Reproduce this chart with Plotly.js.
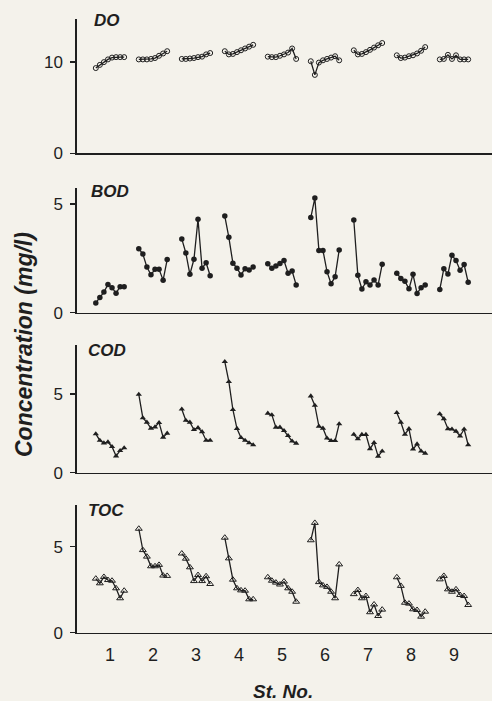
<!DOCTYPE html>
<html>
<head>
<meta charset="utf-8">
<script src="https://cdn.plot.ly/plotly-3.0.1.min.js"></script>
<style>
  html, body { margin: 0; padding: 0; background: #f4f2eb; }
  #chart { width: 492px; height: 701px; }
</style>
</head>
<body>
<div id="chart"></div>
<script>
// ---- data ----
const stations = [1, 2, 3, 4, 5, 6, 7, 8, 9];
const stationLabels = ['1', '2', '3', '4', '5', '6', '7', '8', '9'];
const panelNames = ['DO', 'BOD', 'COD', 'TOC'];

const doValues = [
  [9.35, 9.7, 10.0, 10.3, 10.5, 10.55, 10.55, 10.55],
  [10.3, 10.3, 10.3, 10.35, 10.45, 10.7, 10.95, 11.2],
  [10.35, 10.35, 10.4, 10.45, 10.55, 10.6, 10.85, 11.0],
  [11.2, 10.85, 10.9, 11.1, 11.3, 11.5, 11.7, 11.9],
  [10.6, 10.55, 10.55, 10.7, 10.85, 11.05, 11.5, 10.35],
  [10.1, 8.6, 9.95, 10.2, 10.35, 10.5, 10.65, 10.2],
  [11.3, 10.85, 10.9, 11.1, 11.35, 11.6, 11.85, 12.1],
  [10.75, 10.45, 10.5, 10.65, 10.75, 10.95, 11.25, 11.65],
  [10.3, 10.35, 10.8, 10.35, 10.75, 10.3, 10.3, 10.3]
];
const bodValues = [
  [0.45, 0.7, 0.95, 1.3, 1.15, 0.9, 1.2, 1.2],
  [2.95, 2.7, 2.1, 1.75, 2.0, 2.0, 1.5, 2.45],
  [3.4, 2.75, 1.77, 2.46, 4.3, 2.05, 2.3, 1.7],
  [4.45, 3.47, 2.28, 2.05, 1.74, 2.03, 1.97, 2.1],
  [2.25, 2.05, 2.15, 2.27, 2.4, 1.82, 1.92, 1.28],
  [4.38, 5.28, 2.87, 2.87, 1.89, 1.33, 1.66, 2.89],
  [4.27, 1.72, 1.09, 1.42, 1.28, 1.51, 1.28, 2.23],
  [1.82, 1.58, 1.45, 1.1, 1.77, 0.89, 1.15, 1.28],
  [1.07, 2.03, 1.78, 2.65, 2.4, 1.95, 2.22, 1.4]
];
const codValues = [
  [2.46, 2.05, 1.88, 1.95, 1.65, 1.06, 1.4, 1.57],
  [4.97, 3.48, 3.2, 2.82, 2.9, 3.18, 2.25, 2.5],
  [4.03, 3.32, 3.2, 2.73, 2.85, 2.6, 2.05, 2.05],
  [7.05, 5.78, 4.0, 2.8, 2.22, 2.05, 1.89, 1.76],
  [3.77, 3.67, 2.88, 2.88, 2.67, 2.35, 2.0, 1.87],
  [4.87, 4.27, 2.95, 2.82, 2.19, 2.03, 2.03, 3.1],
  [2.43, 2.15, 2.42, 2.42, 1.52, 1.91, 1.04, 1.37],
  [3.81, 3.2, 2.43, 2.79, 1.49, 1.82, 1.37, 1.23],
  [3.73, 3.42, 2.79, 2.76, 2.63, 2.33, 2.76, 1.76]
];
const tocValues = [
  [3.14, 2.87, 3.24, 3.06, 3.02, 2.58, 2.0, 2.44],
  [6.04, 4.8, 4.42, 3.86, 3.86, 3.94, 3.32, 3.3],
  [4.6, 4.3, 3.8, 3.0, 3.35, 3.0, 3.28, 2.83],
  [5.52, 4.32, 3.08, 2.58, 2.46, 2.44, 1.94, 1.94],
  [3.22, 3.02, 2.91, 2.8, 2.97, 2.58, 2.38, 1.8],
  [5.37, 6.38, 2.94, 2.75, 2.66, 2.38, 2.0, 3.97],
  [2.24, 2.48, 2.0, 2.13, 1.19, 1.64, 0.97, 1.34],
  [3.22, 2.72, 1.74, 1.69, 1.36, 1.32, 0.93, 1.22],
  [3.1, 3.3, 2.52, 2.38, 2.52, 2.19, 2.13, 1.61]
];
const yTickVals = [[0, 10], [0, 5], [0, 5], [0, 5]];

// ---- style / layout constants ----
const W = 492, H = 701;
const ML = 77;
const INK = '#1f1f1f';
const BG = '#f4f2eb';
const HALF = 0.33;                       // half-width of a station's group (station units)
const xRange = [0.233, 9.884];
// panel pixel extents [top, bottom(zero)] and y ranges
const panelPx = [[19.3, 153.3], [188.3, 312.7], [345, 472.7], [505, 632.7]];
const yRanges = [[0, 14.7], [0, 5.73], [0, 8.11], [0, 7.42]];
const markers = [
  {symbol: 'circle-open', size: 5, color: INK, line: {width: 1, color: INK}},
  {symbol: 'circle', size: 5.5, color: INK},
  {symbol: 'triangle-up', size: 5.5, color: INK},
  {symbol: 'triangle-up-open', size: 6, color: INK, line: {width: 1, color: INK}}
];
const FONT = 'Liberation Sans, Arial, sans-serif';

function px2fy(py) { return (H - py) / H; }
function px2fx(px) { return (px - ML) / (W - ML); }

function buildSeries(values) {
  const xs = [], ys = [];
  values.forEach((vals, i) => {
    const s = stations[i];
    const n = vals.length;
    vals.forEach((v, j) => {
      xs.push(s - HALF + (n > 1 ? j * 2 * HALF / (n - 1) : 0));
      ys.push(v);
    });
    xs.push(null); ys.push(null);
  });
  return {xs, ys};
}

const allValues = [doValues, bodValues, codValues, tocValues];
const traces = allValues.map((vals, k) => {
  const s = buildSeries(vals);
  return {
    x: s.xs, y: s.ys,
    xaxis: k === 0 ? 'x' : 'x' + (k + 1),
    yaxis: k === 0 ? 'y' : 'y' + (k + 1),
    type: 'scatter', mode: 'lines+markers',
    connectgaps: false,
    line: {color: INK, width: 1.3},
    marker: markers[k],
    hoverinfo: 'skip',
    showlegend: false
  };
});

const layout = {
  width: W, height: H,
  margin: {l: ML, r: 0, t: 0, b: 0},
  paper_bgcolor: BG, plot_bgcolor: BG,
  showlegend: false,
  annotations: []
};

for (let k = 0; k < 4; k++) {
  const sfx = k === 0 ? '' : String(k + 1);
  const isBottom = k === 3;
  layout['xaxis' + sfx] = {
    domain: [0, 1],
    anchor: 'y' + sfx,
    range: xRange,
    showline: true, linecolor: INK, linewidth: 1.7,
    showgrid: false, zeroline: false,
    ticks: '',
    showticklabels: isBottom,
    tickvals: stations, ticktext: stationLabels,
    tickfont: {family: FONT, size: 18, color: INK},
    ticklabelstandoff: 5
  };
  layout['yaxis' + sfx] = {
    domain: [px2fy(panelPx[k][1]), px2fy(panelPx[k][0])],
    anchor: 'x' + sfx,
    range: yRanges[k],
    showline: true, linecolor: INK, linewidth: 1.7,
    showgrid: false, zeroline: false,
    ticks: 'outside', ticklen: 5, tickwidth: 1.5, tickcolor: INK,
    tickvals: yTickVals[k],
    tickfont: {family: FONT, size: 17, color: INK},
    ticklabelstandoff: 4
  };
}

// panel names
const panelLabelPx = [[92, 20], [89, 192], [86, 350], [86, 510]];
panelNames.forEach((name, k) => {
  layout.annotations.push({
    text: '<b><i>' + name + '</i></b>',
    xref: 'paper', yref: 'paper',
    x: px2fx(panelLabelPx[k][0]), y: px2fy(panelLabelPx[k][1]),
    xanchor: 'left', yanchor: 'middle',
    showarrow: false,
    font: {family: FONT, size: 17, color: INK}
  });
});

// axis titles
layout.annotations.push({
  text: '<b><i>Concentration (mg/l)</i></b>',
  xref: 'paper', yref: 'paper',
  x: px2fx(24), y: px2fy(345),
  xanchor: 'center', yanchor: 'middle',
  textangle: -90, showarrow: false,
  font: {family: FONT, size: 23, color: INK}
});
layout.annotations.push({
  text: '<b><i>St. No.</i></b>',
  xref: 'paper', yref: 'paper',
  x: px2fx(283), y: px2fy(691),
  xanchor: 'center', yanchor: 'middle',
  showarrow: false,
  font: {family: FONT, size: 19, color: INK}
});

Plotly.newPlot('chart', traces, layout, {staticPlot: true, displayModeBar: false});
</script>
</body>
</html>
